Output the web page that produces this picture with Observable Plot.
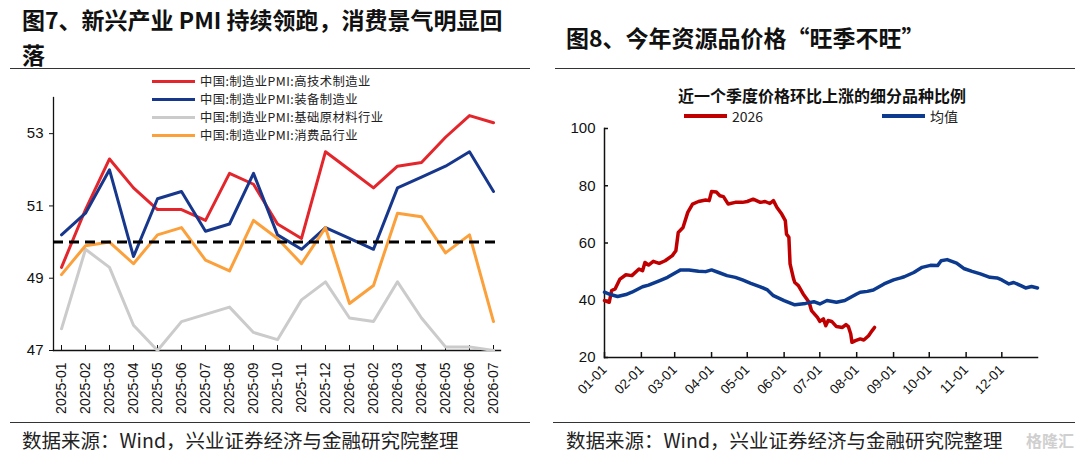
<!DOCTYPE html>
<html><head><meta charset="utf-8">
<script src="https://cdn.jsdelivr.net/npm/d3@7"></script>
<script src="https://cdn.jsdelivr.net/npm/@observablehq/plot@0.6"></script>
<style>
body{margin:0;width:1080px;height:460px;background:#fff;position:relative;overflow:hidden;font-family:"Noto Sans CJK SC",sans-serif;}
.abs{position:absolute;}
.title{font-weight:700;font-size:23px;color:#111;line-height:35px;white-space:nowrap;}
.sep{position:absolute;height:0;border-top:1.6px solid #333;}
.cap{position:absolute;font-size:19.5px;color:#222;white-space:nowrap;line-height:24px;}
.lg{position:absolute;display:flex;align-items:center;white-space:nowrap;color:#222;}
.sw{display:inline-block;height:0;margin-right:5px;}
</style></head>
<body>
<div class="abs title" style="left:22px;top:2px;">图7、新兴产业 PMI 持续领跑，消费景气明显回<br>落</div>
<div class="abs title" style="left:566px;top:20px;">图8、今年资源品价格“旺季不旺”</div>
<div class="sep" style="left:10px;width:520px;top:68px"></div>
<div class="sep" style="left:555px;width:520px;top:68px"></div>
<div class="sep" style="left:10px;width:520px;top:422px"></div>
<div class="sep" style="left:553px;width:522px;top:422px"></div>
<div class="cap" style="left:22px;top:428px;">数据来源：Wind，兴业证券经济与金融研究院整理</div>
<div class="cap" style="left:566px;top:428px;">数据来源：Wind，兴业证券经济与金融研究院整理</div>
<div class="abs" style="left:1026px;top:430px;font-size:16px;line-height:20px;color:#cfcfcf;font-weight:700;white-space:nowrap;">格隆汇</div>
<div id="left" class="abs" style="left:0;top:70px"></div>
<div id="leftLegend"></div>
<div class="abs" style="left:678px;top:83px;font-size:16px;font-weight:700;color:#111;white-space:nowrap;">近一个季度价格环比上涨的细分品种比例</div>
<div id="rightLegend"></div>
<div id="right" class="abs" style="left:550px;top:120px"></div>
<script>
// ---------- Left chart data ----------
const months = ["2025-01","2025-02","2025-03","2025-04","2025-05","2025-06","2025-07","2025-08","2025-09","2025-10","2025-11","2025-12","2026-01","2026-02","2026-03","2026-04","2026-05","2026-06","2026-07"];
const hiTech   = [49.3,50.9,52.3,51.5,50.9,50.9,50.6,51.9,51.6,50.5,50.1,52.5,52.0,51.5,52.1,52.2,52.9,53.5,53.3];
const equip    = [50.2,50.8,52.0,49.6,51.2,51.4,50.3,50.5,51.9,50.2,49.8,50.4,50.1,49.8,51.5,51.8,52.1,52.5,51.4];
const rawMat   = [47.6,49.8,49.3,47.7,47.0,47.8,48.0,48.2,47.5,47.3,48.4,48.9,47.9,47.8,48.9,47.9,47.1,47.1,47.0];
const consumer = [49.1,49.9,50.0,49.4,50.2,50.4,49.5,49.2,50.6,50.1,49.4,50.4,48.3,48.8,50.8,50.7,49.7,50.2,47.8];
const leftNames = ["中国:制造业PMI:高技术制造业","中国:制造业PMI:装备制造业","中国:制造业PMI:基础原材料行业","中国:制造业PMI:消费品行业"];
const leftColors = ["#e3262b","#17378c","#cbcbcb","#fba03a"];
const leftYTicks = [47,49,51,53];
const threshold = 50;

// ---------- Right chart data ----------
const redDates = ["01-01","01-05","01-07","01-10","01-14","01-19","01-24","01-30","02-02","02-04","02-07","02-11","02-16","02-21","02-27","03-02","03-04","03-08","03-12","03-16","03-21","03-27","03-30","04-01","04-05","04-08","04-11","04-15","04-21","04-27","05-01","05-06","05-12","05-16","05-20","05-23","05-26","05-30","06-02","06-03","06-05","06-06","06-09","06-10","06-13","06-17","06-22","06-24","06-29","07-01","07-04","07-06","07-08","07-11","07-15","07-20","07-23","07-25","07-27","07-28","07-31","08-04","08-07","08-11","08-14","08-16"];
const redValues = [39.9,39.3,43.4,44.0,47.4,48.9,48.6,50.9,50.3,53.2,52.3,53.6,52.9,53.8,55.6,57.3,63.7,65.4,70.7,73.6,74.5,75.0,74.8,78.0,77.8,76.5,76.2,73.6,74.2,74.2,74.5,75.3,74.2,74.5,73.8,74.8,72.4,70.1,67.8,63.1,62.0,52.7,47.4,46.2,45.1,42.2,39.3,36.4,34.0,32.6,33.5,31.1,32.9,32.6,30.8,30.5,31.5,30.8,28.2,25.3,25.9,26.5,26.1,27.6,29.4,30.5];
const avgDates = ["01-01","01-06","01-12","01-19","01-24","02-02","02-07","02-16","02-23","03-02","03-06","03-13","03-21","03-27","04-01","04-07","04-14","04-21","04-27","05-04","05-12","05-18","05-23","06-01","06-10","06-19","06-26","07-01","07-07","07-15","07-22","08-01","08-04","08-10","08-15","08-24","09-01","09-07","09-10","09-18","09-25","10-02","10-08","10-11","10-16","10-24","10-30","11-06","11-13","11-21","11-27","12-01","12-07","12-11","12-17","12-21","12-26","12-31"];
const avgValues = [42.8,42.0,41.3,42.0,42.8,44.7,45.3,46.8,48.0,49.7,50.6,50.6,50.1,50.0,50.6,49.7,48.6,48.0,47.1,45.9,44.7,43.6,41.6,39.9,38.4,38.9,39.5,38.7,39.9,39.3,39.9,42.2,42.8,43.1,43.6,45.7,47.1,47.8,48.2,49.7,51.5,52.2,52.1,53.8,54.2,53.0,51.1,50.1,49.2,48.0,47.8,47.1,45.7,46.2,45.1,44.3,44.8,44.3];
const rightNames = ["2026","均值"];
const rightColors = ["#c00000","#0c3a8e"];
const rightYTicks = [20,40,60,80,100];

const numFont = "'Liberation Sans', Arial, 'Noto Sans CJK SC', sans-serif";

// ---------- Left chart ----------
const seriesL = [hiTech, equip, rawMat, consumer];
const rowsL = seriesL.flatMap((vals, k) => vals.map((v, i) => ({month: months[i], value: v, name: leftNames[k]})));
const left = Plot.plot({
  width: 540, height: 355,
  marginLeft: 53, marginRight: 40, marginTop: 27, marginBottom: 75,
  x: {type: "point", domain: months, padding: 0},
  y: {domain: [47, 54]},
  color: {domain: leftNames, range: leftColors},
  style: {fontFamily: numFont, fontSize: "14px", color: "#111", background: "transparent"},
  marks: [
    Plot.frame({anchor: "left", stroke: "#111", strokeWidth: 1.3}),
    Plot.frame({anchor: "bottom", stroke: "#111", strokeWidth: 1.3}),
    Plot.axisY({ticks: leftYTicks, tickSize: 4, tickPadding: 6, fontSize: 15, tickFormat: d => String(d), label: null}),
    Plot.axisX({tickSize: 5, dy: -5, tickFormat: () => "", label: null}),
    Plot.axisX({tickSize: 0, tickPadding: 12, tickRotate: -90, fontSize: 14, label: null}),
    Plot.line(rowsL, {x: "month", y: "value", z: "name", stroke: "name", strokeWidth: 3}),
    Plot.ruleY([threshold], {stroke: "#000", strokeWidth: 3, strokeDasharray: "10,6"})
  ]
});
document.getElementById("left").appendChild(left);

const ll = document.getElementById("leftLegend");
leftNames.forEach((n, k) => {
  const d = document.createElement("div");
  d.className = "lg";
  d.style.left = "152px"; d.style.top = (74 + k * 18) + "px"; d.style.fontSize = "12.3px"; d.style.lineHeight = "15px"; d.style.height = "15px"; d.style.letterSpacing = "0.45px";
  d.innerHTML = `<span class="sw" style="width:43px;border-top:3.5px solid ${leftColors[k]}"></span><span>${n}</span>`;
  ll.appendChild(d);
});

// ---------- Right chart ----------
const parse = d3.utcParse("%Y-%m-%d");
const toDate = s => parse("2026-" + s);
const rowsR = [
  ...redDates.map((d, i) => ({date: toDate(d), value: redValues[i], name: rightNames[0]})),
  ...avgDates.map((d, i) => ({date: toDate(d), value: avgValues[i], name: rightNames[1]}))
];
const x0 = toDate("01-01"), x1 = toDate("12-31");
const monthTicks = d3.utcMonth.range(x0, x1);
const right = Plot.plot({
  width: 530, height: 300,
  marginLeft: 54, marginRight: 43, marginTop: 8, marginBottom: 63,
  x: {type: "utc", domain: [x0, x1]},
  y: {domain: [20, 100]},
  color: {domain: rightNames, range: rightColors},
  style: {fontFamily: numFont, fontSize: "13px", color: "#111", background: "transparent"},
  marks: [
    Plot.frame({anchor: "left", stroke: "#111", strokeWidth: 1.5}),
    Plot.frame({anchor: "bottom", stroke: "#111", strokeWidth: 1.5}),
    Plot.axisY({ticks: rightYTicks, tickSize: 4, dx: 4, strokeWidth: 1.5, tickFormat: () => "", label: null}),
    Plot.axisY({ticks: rightYTicks, tickSize: 0, tickPadding: 9, fontSize: 15, label: null}),
    Plot.axisX({ticks: monthTicks, tickSize: 5, dy: -5, strokeWidth: 1.5, tickFormat: () => "", label: null}),
    Plot.axisX({ticks: monthTicks, tickSize: 0, tickPadding: 10, tickRotate: -45, fontSize: 13.5, tickFormat: d3.utcFormat("%m-%d"), label: null}),
    Plot.line(rowsR, {x: "date", y: "value", z: "name", stroke: "name", strokeWidth: 3.5})
  ]
});
document.getElementById("right").appendChild(right);

const rl = document.getElementById("rightLegend");
[[684, 0], [882, 1]].forEach(([lx, k]) => {
  const d = document.createElement("div");
  d.className = "lg";
  d.style.left = lx + "px"; d.style.top = "106px"; d.style.fontSize = "14px"; d.style.lineHeight = "20px";
  d.innerHTML = `<span class="sw" style="width:43px;border-top:4px solid ${rightColors[k]}"></span><span>${rightNames[k]}</span>`;
  rl.appendChild(d);
});
</script>
</body></html>
